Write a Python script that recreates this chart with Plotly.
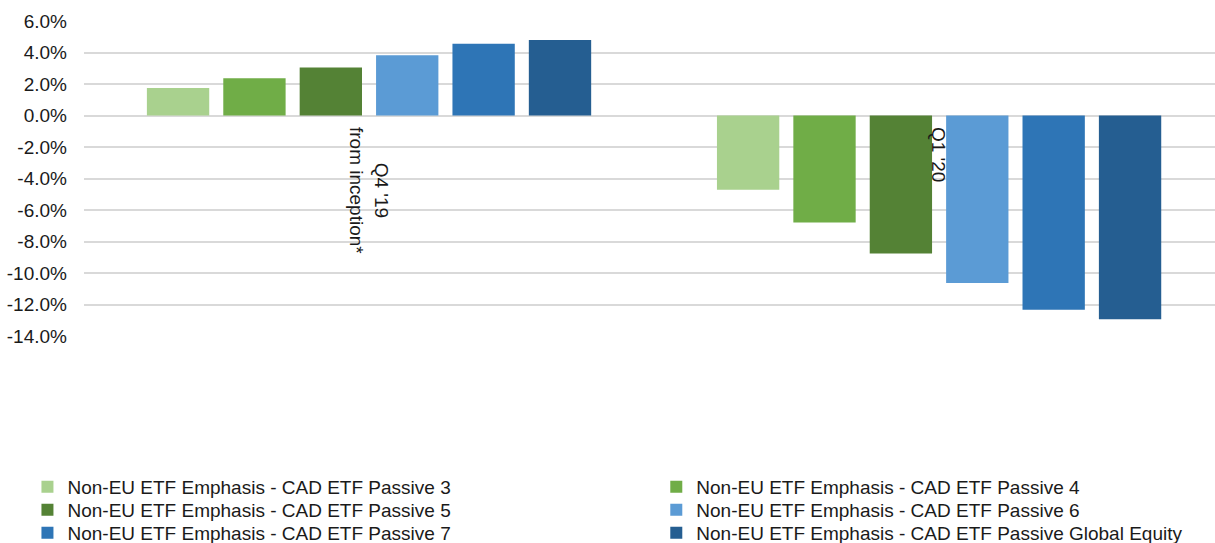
import plotly.graph_objects as go

categories = ["Q4 '19<br>from inception*", "Q1 '20"]
series_names = [
    "Non-EU ETF Emphasis - CAD ETF Passive 3",
    "Non-EU ETF Emphasis - CAD ETF Passive 4",
    "Non-EU ETF Emphasis - CAD ETF Passive 5",
    "Non-EU ETF Emphasis - CAD ETF Passive 6",
    "Non-EU ETF Emphasis - CAD ETF Passive 7",
    "Non-EU ETF Emphasis - CAD ETF Passive Global Equity",
]
passive3 = [1.75, -4.71]
passive4 = [2.37, -6.79]
passive5 = [3.05, -8.76]
passive6 = [3.82, -10.64]
passive7 = [4.56, -12.34]
global_equity = [4.79, -12.93]
series_values = [passive3, passive4, passive5, passive6, passive7, global_equity]
colors = ["#A9D18E", "#70AD47", "#548235", "#5B9BD5", "#2E75B6", "#255E91"]

tick_vals = [6, 4, 2, 0, -2, -4, -6, -8, -10, -12, -14]
tick_text = ["6.0%", "4.0%", "2.0%", "0.0%", "-2.0%", "-4.0%", "-6.0%",
             "-8.0%", "-10.0%", "-12.0%", "-14.0%"]

FONT = "Liberation Sans, Arial, sans-serif"
TXT = "#1a1a1a"
FS = 19

# legend grid: two columns, three rows (paper coords)
legend_cols = [-0.050, 0.506]
legend_rows = [-0.479, -0.552, -0.625]

fig = go.Figure()
layout_legends = {}
for k, (name, vals, col) in enumerate(zip(series_names, series_values, colors)):
    lid = "legend" if k == 0 else f"legend{k + 1}"
    fig.add_trace(go.Bar(
        x=list(range(len(categories))), y=vals, name=name,
        marker=dict(color=col, line=dict(width=0)), legend=lid,
    ))
    layout_legends[lid] = dict(
        x=legend_cols[k % 2], xanchor="left",
        y=legend_rows[k // 2], yanchor="middle",
        orientation="h", bgcolor="rgba(0,0,0,0)",
        font=dict(family=FONT, size=FS, color=TXT),
    )

for i, cat in enumerate(categories):
    fig.add_annotation(
        x=i, y=0, xref="x", yref="y", text=cat, textangle=90,
        showarrow=False, yanchor="top", xanchor="center", yshift=-9,
        font=dict(family=FONT, size=FS, color=TXT), align="center",
    )

fig.update_layout(
    width=1215, height=543,
    margin=dict(l=84, r=0, t=21, b=207, autoexpand=False),
    paper_bgcolor="white", plot_bgcolor="white",
    barmode="group", bargap=0.196, bargroupgap=0.184,
    font=dict(family=FONT, size=FS, color=TXT),
    showlegend=True,
    xaxis=dict(
        range=[-0.5, 1.484], showticklabels=False, showgrid=False,
        zeroline=False, showline=False, ticks="",
    ),
    yaxis=dict(
        range=[-14, 6], tickvals=tick_vals, ticktext=tick_text,
        showgrid=True, gridcolor="#d9d9d9", gridwidth=1.5,
        zeroline=True, zerolinecolor="#d9d9d9", zerolinewidth=1.5,
        showline=False, ticks="", ticklabelstandoff=16,
        tickfont=dict(family=FONT, size=FS, color=TXT),
    ),
    **layout_legends,
)

fig.write_html(
    "out.html",
    config={"displayModeBar": False},
    post_script="document.body.style.margin='0';document.body.style.overflow='hidden';",
)
